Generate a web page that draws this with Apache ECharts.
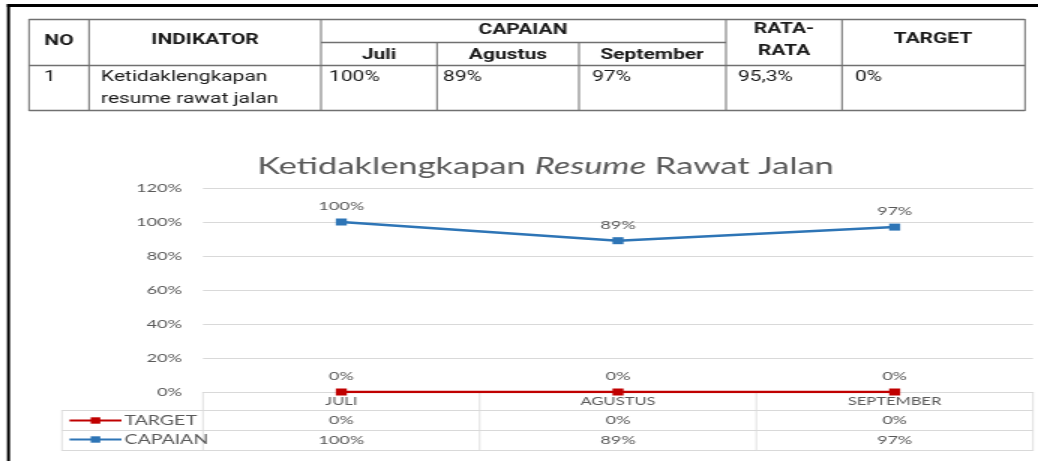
<!DOCTYPE html>
<html>
<head>
<meta charset="utf-8">
<script src="https://cdn.jsdelivr.net/npm/echarts@6/dist/echarts.min.js"></script>
<style>
  html, body { margin: 0; padding: 0; background: #fff; overflow: hidden; }
  #main { width: 692px; height: 461px; transform: scaleX(1.5); transform-origin: 0 0; }
</style>
</head>
<body>
<div id="main"></div>
<script>
// data
var categories = ['JULI', 'AGUSTUS', 'SEPTEMBER'];
var monthNames = ['Juli', 'Agustus', 'September'];
var capaian = [100, 89, 97];
var target = [0, 0, 0];
var seriesNames = ['TARGET', 'CAPAIAN'];
var indikator = ['Ketidaklengkapan', 'resume rawat jalan'];

// the source picture is stretched horizontally, so draw narrow and scale
var S = 1.5;
function X(v) { return v / S; }

var gridLeft = 203, gridRight = 1033, gridTop = 188, gridBottom = 392;
var tableLine = '#d9d9d9';
var txt = '#595959';

var avg = capaian.reduce(function (a, b) { return a + b; }, 0) / capaian.length;
var avgText = avg.toFixed(1).replace('.', ',') + '%';

var graphic = [];
// black frame
graphic.push({ type: 'rect', shape: { x: X(7), y: 4, width: X(1031), height: 3 }, style: { fill: '#000' } });
graphic.push({ type: 'rect', shape: { x: X(7), y: 4, width: X(3), height: 457 }, style: { fill: '#000' } });

// top table
function hl(x1, x2, y, c, w) {
    graphic.push({ type: 'line', shape: { x1: X(x1), y1: y, x2: X(x2), y2: y }, style: { stroke: c, lineWidth: w } });
}
function vl(x, y1, y2, c, w) {
    graphic.push({ type: 'line', shape: { x1: X(x), y1: y1, x2: X(x), y2: y2 }, style: { stroke: c, lineWidth: w } });
}
function tx(text, x, y, font, align) {
    graphic.push({
        type: 'text', x: X(x), y: y,
        style: { text: text, font: font, fill: '#1a1a1a', align: align || 'center', verticalAlign: 'middle' }
    });
}
var tb = '#707070';
hl(29, 1025, 19.5, tb, 1.3);
hl(321, 726, 42.5, tb, 1.3);
hl(29, 1025, 65.5, tb, 1.3);
hl(29, 1025, 110.5, tb, 1.3);
[29, 89, 321, 726, 842, 1025].forEach(function (x) { vl(x, 19, 111, tb, 1); });
[437, 579].forEach(function (x) { vl(x, 42, 111, tb, 1); });

var hFont = 'bold 14px Roboto';
var bFont = '14px Roboto';
tx('NO', 59, 41, hFont);
tx('INDIKATOR', 205, 40, hFont);
tx('CAPAIAN', 523, 30, hFont);
var colCenters = [379, 508, 652];
monthNames.forEach(function (m, i) { tx(m, colCenters[i], 55, hFont); });
tx('RATA-', 784, 29, hFont);
tx('RATA', 784, 51, hFont);
tx('TARGET', 933, 39, hFont);

tx('1', 44, 77, bFont, 'left');
tx(indikator[0], 101, 77, bFont, 'left');
tx(indikator[1], 101, 99, bFont, 'left');
var colLefts = [329, 443, 592];
capaian.forEach(function (v, i) { tx(v + '%', colLefts[i], 77, bFont, 'left'); });
tx(avgText, 738, 77, bFont, 'left');
tx(target[0] + '%', 855, 77, bFont, 'left');

// data table under the chart
var bandW = (gridRight - gridLeft) / categories.length;
hl(62, gridRight, 410.5, tableLine, 1);
hl(62, gridRight, 430.5, tableLine, 1);
hl(62, gridRight, 450.5, tableLine, 1);
vl(62, 410, 451, tableLine, 0.8);
for (var i = 0; i <= categories.length; i++) {
    vl(gridLeft + i * bandW, gridBottom, 451, tableLine, 0.8);
}

var option = {
    animation: false,
    backgroundColor: '#fff',
    title: {
        text: '{a|Ketidaklengkapan }{b|Resume}{a| Rawat Jalan}',
        left: X(538),
        top: 150,
        textAlign: 'center',
        textStyle: {
            fontWeight: 'normal',
            rich: {
                a: { fontSize: 23, fontFamily: 'Lato', color: txt, fontWeight: 'normal' },
                b: { fontSize: 23, fontFamily: 'Lato', color: txt, fontWeight: 'normal', fontStyle: 'italic' }
            }
        }
    },
    legend: {
        data: seriesNames,
        orient: 'vertical',
        left: X(68),
        top: 414,
        height: 46,
        padding: 0,
        itemWidth: X(52),
        itemHeight: 8,
        itemGap: 6,
        textStyle: { color: txt, fontSize: 13, fontFamily: 'Lato', padding: [0, 0, 0, -3] }
    },
    grid: {
        left: X(gridLeft),
        right: X(1038 - gridRight),
        top: gridTop,
        bottom: 461 - gridBottom,
        containLabel: false
    },
    xAxis: [
        {
            type: 'category',
            position: 'bottom',
            data: categories,
            axisLine: { lineStyle: { color: tableLine, width: 1 } },
            axisTick: { show: false },
            axisLabel: { color: txt, fontSize: 11, fontFamily: 'Lato', margin: 4 }
        },
        {
            type: 'category',
            position: 'bottom',
            data: target.map(function (v) { return v + '%'; }),
            offset: 19.5,
            axisLine: { show: false },
            axisTick: { show: false },
            axisLabel: { color: txt, fontSize: 12, fontFamily: 'Lato', margin: 3 }
        },
        {
            type: 'category',
            position: 'bottom',
            data: capaian.map(function (v) { return v + '%'; }),
            offset: 39.5,
            axisLine: { show: false },
            axisTick: { show: false },
            axisLabel: { color: txt, fontSize: 12, fontFamily: 'Lato', margin: 3 }
        }
    ],
    yAxis: {
        type: 'value',
        min: 0,
        max: 120,
        interval: 20,
        axisLine: { show: false },
        axisTick: { show: false },
        axisLabel: { formatter: '{value}%', color: txt, fontSize: 12, fontFamily: 'Lato', margin: X(21) },
        splitLine: { lineStyle: { color: tableLine, width: 1 } }
    },
    series: [
        {
            name: 'TARGET',
            type: 'line',
            data: target,
            color: '#C00000',
            symbol: 'rect',
            symbolSize: [X(11), 7],
            lineStyle: { width: 2.5 },
            z: 3,
            label: { show: true, position: 'top', distance: 6, formatter: '{c}%', color: txt, fontSize: 12, fontFamily: 'Lato' }
        },
        {
            name: 'CAPAIAN',
            type: 'line',
            data: capaian,
            color: '#2E75B6',
            symbol: 'rect',
            symbolSize: [X(11), 7],
            lineStyle: { width: 2.5 },
            label: { show: true, position: 'top', distance: 6, formatter: '{c}%', color: txt, fontSize: 12, fontFamily: 'Lato' }
        }
    ],
    graphic: graphic
};

var chart = echarts.init(document.getElementById('main'));
chart.setOption(option);
</script>
</body>
</html>
